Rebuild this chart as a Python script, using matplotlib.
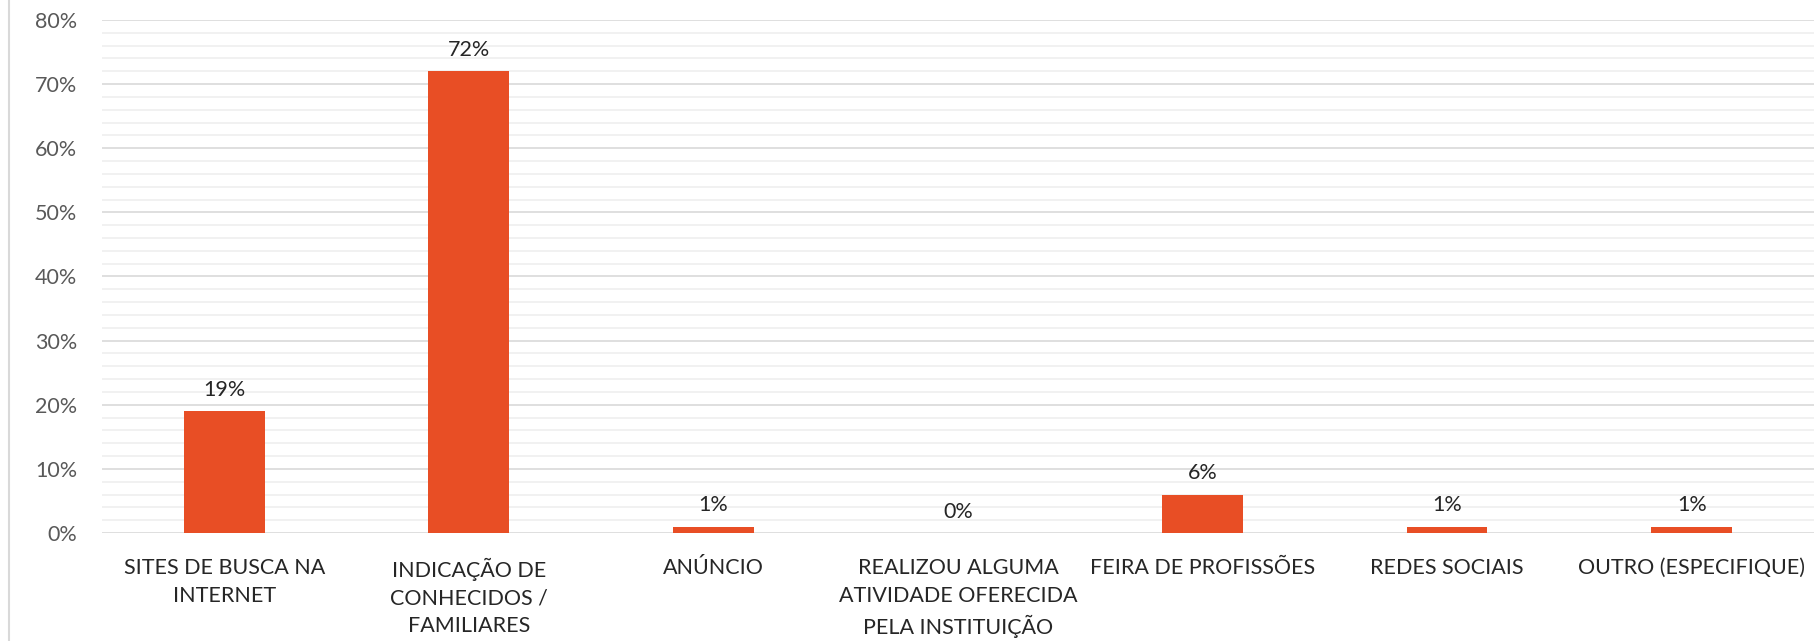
import matplotlib.pyplot as plt
from matplotlib.ticker import MultipleLocator, PercentFormatter
from matplotlib.lines import Line2D

categories = ["SITES DE BUSCA NA\nINTERNET",
              "INDICAÇÃO DE\nCONHECIDOS /\nFAMILIARES",
              "ANÚNCIO",
              "REALIZOU ALGUMA\nATIVIDADE OFERECIDA\nPELA INSTITUIÇÃO",
              "FEIRA DE PROFISSÕES",
              "REDES SOCIAIS",
              "OUTRO (ESPECIFIQUE)"]
values = [19, 72, 1, 0, 6, 1, 1]
labels = ["19%", "72%", "1%", "0%", "6%", "1%", "1%"]

plt.rcParams['font.family'] = ['Lato', 'DejaVu Sans']

fig = plt.figure(figsize=(18.18, 6.41), dpi=100)
ax = fig.add_axes([0.0561, 0.1685, 0.9417, 0.8003])

x = range(len(categories))
bars = ax.bar(x, values, width=0.33, color='#E84E25', zorder=3)

for b, lab in zip(bars, labels):
    ax.annotate(lab, (b.get_x() + b.get_width() / 2, b.get_height()),
                xytext=(0, 8), textcoords='offset points',
                ha='center', va='bottom', fontsize=15.5, color='#262626')

ax.set_xlim(-0.5, len(categories) - 0.5)
ax.set_ylim(0, 80)
ax.yaxis.set_major_locator(MultipleLocator(10))
ax.yaxis.set_minor_locator(MultipleLocator(2))
ax.yaxis.set_major_formatter(PercentFormatter(decimals=0))
ax.grid(axis='y', which='major', color='#d9d9d9', lw=1.2, zorder=0)
ax.grid(axis='y', which='minor', color='#efefef', lw=1.2, zorder=0)

ax.set_xticks(list(x))
ax.set_xticklabels(categories, fontsize=15.5, color='#262626', linespacing=1.48)
ax.tick_params(axis='x', length=0, pad=18)
ax.tick_params(axis='y', which='both', length=0, pad=18, labelsize=15.5, labelcolor='#595959')

for s in ax.spines.values():
    s.set_visible(False)

fig.add_artist(Line2D([0.005, 0.005], [0, 1], transform=fig.transFigure,
                      color='#d9d9d9', lw=1.5))

fig.savefig('out.png', dpi=100)
